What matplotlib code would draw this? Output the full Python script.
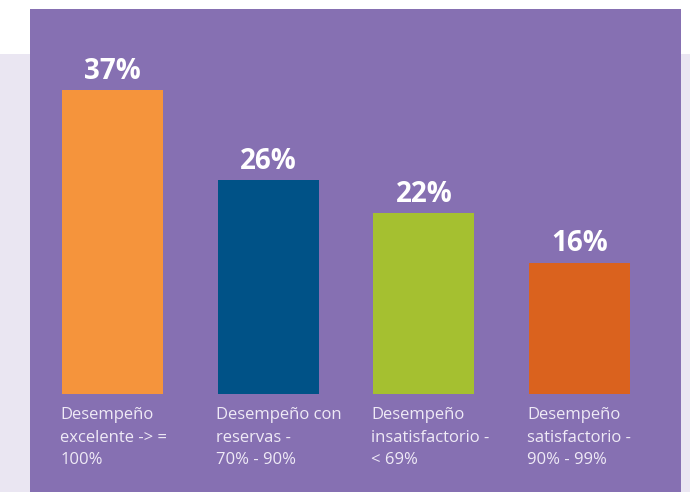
import matplotlib.pyplot as plt
from matplotlib.patches import Rectangle

categories = [
    "Desempeño\nexcelente -> =\n100%",
    "Desempeño con\nreservas -\n70% - 90%",
    "Desempeño\ninsatisfactorio -\n< 69%",
    "Desempeño\nsatisfactorio -\n90% - 99%",
]
values = [37, 26, 22, 16]
value_labels = ["37%", "26%", "22%", "16%"]
bar_colors = ["#F5943C", "#005287", "#A5C030", "#DA621E"]

panel = "#8670B2"
lavender = "#EAE6F2"
text_col = "#EFEAF6"

plt.rcParams["font.family"] = ["Open Sans", "DejaVu Sans"]

fig = plt.figure(figsize=(6.9, 4.92), dpi=100)
fig.patch.set_facecolor("white")
# light band behind the panel
fig.patches.append(Rectangle((0, 0), 1, 438 / 492, transform=fig.transFigure,
                             facecolor=lavender, edgecolor="none", zorder=-5))

ax = fig.add_axes([30 / 690, 0, 651 / 690, 483 / 492])
ax.set_zorder(1)
ax.set_facecolor(panel)
for s in ax.spines.values():
    s.set_visible(False)
ax.set_xticks([])
ax.set_yticks([])

x = range(len(values))
width = 0.65
ax.bar(x, values, width=width, color=bar_colors, zorder=2)

ax.set_xlim(-0.53, 3.652)
ax.set_ylim(-11.92, 46.84)

for i, v in enumerate(values):
    ax.text(i, v + 1.34, value_labels[i], ha="center", va="baseline",
            color="white", fontsize=20, fontweight="bold")
    ax.text(i - width / 2 - 0.012, -1.6, categories[i], ha="left", va="top",
            color=text_col, fontsize=12, linespacing=1.55)

fig.savefig("out.png", dpi=100, facecolor=fig.get_facecolor())
